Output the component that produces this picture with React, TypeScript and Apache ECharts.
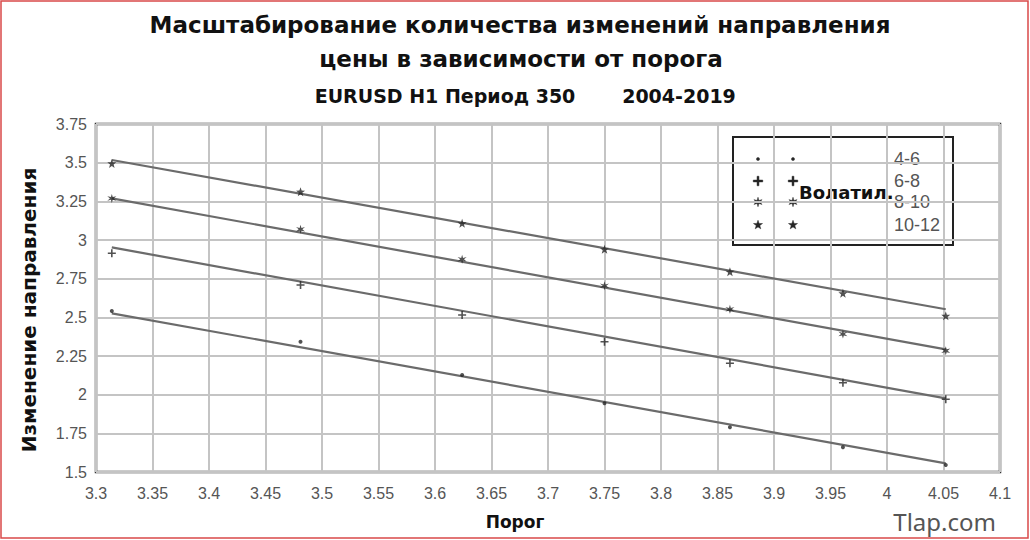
import React, { useEffect, useRef } from "react";
import * as echarts from "echarts";

// ---- data ----
const thresholds = [3.314, 3.481, 3.624, 3.75, 3.861, 3.961, 4.052];
const vol4_6 = [2.541, 2.342, 2.127, 1.944, 1.789, 1.66, 1.545];
const vol6_8 = [2.914, 2.709, 2.515, 2.342, 2.203, 2.077, 1.97];
const vol8_10 = [3.269, 3.069, 2.875, 2.704, 2.552, 2.392, 2.284];
const vol10_12 = [3.495, 3.312, 3.108, 2.94, 2.795, 2.655, 2.51];
const seriesNames = ["4-6", "6-8", "8-10", "10-12"];
// trend line endpoints (at first and last threshold)
const trendX = [3.314, 4.052];
const trendStart = [2.526, 2.952, 3.269, 3.517];
const trendEnd = [1.556, 1.976, 2.293, 2.552];
// axis ticks
const xTicks = { min: 3.3, max: 4.1, step: 0.05 };
const yTicks = { min: 1.5, max: 3.75, step: 0.25 };
const titleLines = [
  "Масштабирование количества изменений направления",
  "цены в зависимости от порога",
];
const subtitleParts = ["EURUSD H1 Период 350", "2004-2019"];
const yAxisTitle = "Изменение направления";
const xAxisTitle = "Порог";
const legendTitle = "Волатил.";
const watermark = "Tlap.com";

const PLUS = "M-1,-5H1V-1H5V1H1V5H-1V1H-5V-1H-1Z";
const ASTER =
  "M0,-5L0.9,-1.56L4.33,-2.5L1.8,0L4.33,2.5L0.9,1.56L0,5L-0.9,1.56L-4.33,2.5L-1.8,0L-4.33,-2.5L-0.9,-1.56Z";
const STAR =
  "M0,-5L1.18,-1.62L4.76,-1.55L1.9,0.62L2.94,4.05L0,2L-2.94,4.05L-1.9,0.62L-4.76,-1.55L-1.18,-1.62Z";

let registered = false;
function registerShapes() {
  if (registered) return;
  registered = true;
  echarts.graphic.registerShape("mkPlus", echarts.graphic.extendPath(PLUS, {}));
  echarts.graphic.registerShape("mkAster", echarts.graphic.extendPath(ASTER, {}));
  echarts.graphic.registerShape("mkStar", echarts.graphic.extendPath(STAR, {}));
}

const TITLE_FONT = "'DejaVu Sans', 'Noto Sans', sans-serif";
const LABEL_FONT = "'Liberation Sans', Arial, sans-serif";
const MARK = "#262626";

export default function App() {
  const ref = useRef<HTMLDivElement>(null);
  useEffect(() => {
    document.body.style.margin = "0";
    registerShapes();
    const chart = echarts.init(ref.current!, null, { renderer: "svg" });

    const pts = (ys: number[]) => thresholds.map((x, i) => [x, ys[i]]);
    const seriesData = [vol4_6, vol6_8, vol8_10, vol10_12];
    const symbols = ["circle", "path://" + PLUS, "path://" + ASTER, "path://" + STAR];
    const sizes = [4, 8, 9, 9];

    const scatter = seriesData.map((ys, i) => ({
      type: "scatter",
      name: seriesNames[i],
      data: pts(ys),
      symbol: symbols[i],
      symbolSize: sizes[i],
      itemStyle: { color: MARK },
      z: 3,
    }));
    const trends = trendStart.map((s, i) => ({
      type: "line",
      name: "trend " + seriesNames[i],
      data: [
        [trendX[0], s],
        [trendX[1], trendEnd[i]],
      ],
      symbol: "none",
      lineStyle: { color: "#6b6b6b", width: 2.2 },
      z: 2,
    }));

    const legendRowsY = [159, 181, 202, 225];
    const legendMarkers: any[] = [];
    const mkTypes = ["", "mkPlus", "mkAster", "mkStar"];
    legendRowsY.forEach((y, i) => {
      [758, 793].forEach((x) => {
        if (i === 0) {
          legendMarkers.push({ type: "circle", shape: { cx: x, cy: y, r: 1.8 }, style: { fill: MARK } });
        } else {
          legendMarkers.push({
            type: mkTypes[i],
            x,
            y,
            scaleX: 0.95,
            scaleY: 0.95,
            style: { fill: MARK, stroke: MARK, lineWidth: 0.5 },
          });
        }
      });
      legendMarkers.push({
        type: "text",
        x: 894,
        y,
        style: { text: seriesNames[i], font: `18px ${LABEL_FONT}`, fill: "#555", verticalAlign: "middle", align: "left" },
      });
    });

    chart.setOption({
      animation: false,
      backgroundColor: "#fff",
      grid: {
        left: 96,
        right: 30,
        top: 124,
        bottom: 68,
        show: true,
        borderColor: "#333",
        borderWidth: 2.5,
        backgroundColor: "#fff",
      },
      xAxis: {
        type: "value",
        min: xTicks.min,
        max: xTicks.max,
        interval: xTicks.step,
        axisLine: { show: false },
        axisTick: { show: false },
        splitLine: { show: true, lineStyle: { color: "#c4c4c4", width: 2 } },
        axisLabel: { color: "#555", fontSize: 16, fontFamily: LABEL_FONT, margin: 13 },
      },
      yAxis: {
        type: "value",
        min: yTicks.min,
        max: yTicks.max,
        interval: yTicks.step,
        axisLine: { show: false },
        axisTick: { show: false },
        splitLine: { show: true, lineStyle: { color: "#c4c4c4", width: 2 } },
        axisLabel: { color: "#555", fontSize: 16, fontFamily: LABEL_FONT, margin: 9 },
      },
      series: [...scatter, ...trends],
      graphic: [
        {
          type: "rect",
          shape: { x: 1, y: 1, width: 1027, height: 537 },
          style: { fill: "none", stroke: "#d94a4a", lineWidth: 1.5 },
          z: 100,
        },
        {
          type: "text",
          x: 520,
          y: 25,
          style: { text: titleLines[0], font: `bold 23px ${TITLE_FONT}`, fill: "#111", align: "center", verticalAlign: "middle" },
        },
        {
          type: "text",
          x: 521,
          y: 59,
          style: { text: titleLines[1], font: `bold 23px ${TITLE_FONT}`, fill: "#111", align: "center", verticalAlign: "middle" },
        },
        {
          type: "text",
          x: 445,
          y: 96,
          style: { text: subtitleParts[0], font: `bold 19px ${TITLE_FONT}`, fill: "#111", align: "center", verticalAlign: "middle" },
        },
        {
          type: "text",
          x: 679,
          y: 96,
          style: { text: subtitleParts[1], font: `bold 19px ${TITLE_FONT}`, fill: "#111", align: "center", verticalAlign: "middle" },
        },
        {
          type: "text",
          x: 29,
          y: 310,
          rotation: Math.PI / 2,
          style: { text: yAxisTitle, font: `bold 20px ${TITLE_FONT}`, fill: "#111", align: "center", verticalAlign: "middle" },
        },
        {
          type: "text",
          x: 515,
          y: 522,
          style: { text: xAxisTitle, font: `bold 17px ${TITLE_FONT}`, fill: "#111", align: "center", verticalAlign: "middle" },
        },
        {
          type: "text",
          x: 996,
          y: 521,
          style: { text: watermark, font: `24px ${"'Noto Sans', sans-serif"}`, fill: "#555", align: "right", verticalAlign: "middle" },
        },
        {
          type: "group",
          z: 50,
          children: [
            {
              type: "rect",
              shape: { x: 733, y: 137, width: 220, height: 108 },
              style: { fill: "#fff", stroke: "#222", lineWidth: 2 },
            },
            ...legendMarkers,
            {
              type: "text",
              x: 799,
              y: 192,
              style: { text: legendTitle, font: `bold 18px ${TITLE_FONT}`, fill: "#111", align: "left", verticalAlign: "middle" },
            },
          ],
        },
      ],
    });
    return () => chart.dispose();
  }, []);
  return <div ref={ref} style={{ width: 1030, height: 540 }} />;
}
